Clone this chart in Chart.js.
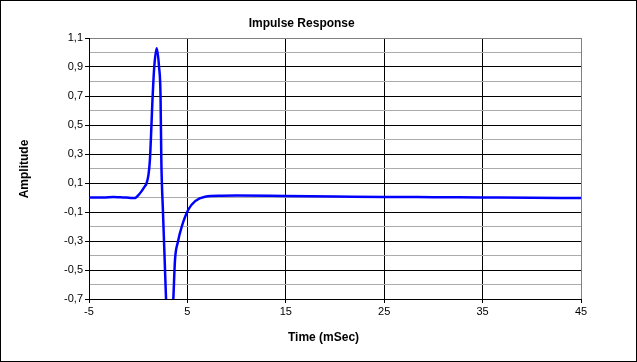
<!DOCTYPE html>
<html>
<head>
<meta charset="utf-8">
<title>Impulse Response</title>
<script src="https://cdn.jsdelivr.net/npm/chart.js@4.4.1/dist/chart.umd.min.js"></script>
<style>
  html, body { margin: 0; padding: 0; background: #fff; }
  .frame {
    width: 637px; height: 362px;
    box-sizing: border-box;
    border: 1px solid #000;
    background: #fff;
    position: relative;
  }
</style>
</head>
<body>
<div class="frame"><canvas id="impulseChart"></canvas></div>
<script>
/* Impulse Response — line chart */

// ── Data ──────────────────────────────────────────────────────
const timeMs = [
  -5, -3.5, -2.5, -1.8, -1.2, -0.6, -0.3, 0.0, 0.35, 0.6, 0.86, 1.05, 1.19,
  1.47, 1.63, 1.88, 2.12, 2.27, 2.35, 2.52, 2.69, 2.83, 3.0, 3.2, 3.4, 3.57,
  3.74, 4.02, 4.43, 5.1, 5.79, 6.8, 8.5, 10, 15, 20, 25, 30, 35, 40, 45
];
const amplitude = [
  0.000, 0.000, 0.003, 0.001, 0.000, -0.004, -0.003, 0.015, 0.044, 0.07, 0.10, 0.16, 0.26,
  0.70, 0.90, 1.03, 0.90, 0.70, 0.26, -0.105, -0.43, -0.70, -0.92, -1.00, -0.92, -0.70,
  -0.43, -0.31, -0.20, -0.083, -0.025, 0.005, 0.012, 0.013, 0.010, 0.007, 0.004, 0.002, 0.000, -0.002, -0.003
];

const xTickValues = [-5, 5, 15, 25, 35, 45];
const yTickValues = [
  -0.7, -0.6, -0.5, -0.4, -0.3, -0.2, -0.1, 0.0, 0.1,
  0.2, 0.3, 0.4, 0.5, 0.6, 0.7, 0.8, 0.9, 1.0, 1.1
];

const chartTitle = 'Impulse Response';
const xTitle = 'Time (mSec)';
const yTitle = 'Amplitude';

// ── Helpers ───────────────────────────────────────────────────
const FONT = "Arial, 'Liberation Sans', sans-serif";
const MINOR_GRID = '#ababab';
const BORDER_GREY = '#808080';

function isMajorY(v) {
  return Math.abs(Math.round(v * 10)) % 2 === 1;
}

function formatComma(v) {
  return v.toFixed(1).replace('.', ',');
}

// titles drawn at Excel-like positions
const titlesPlugin = {
  id: 'excelTitles',
  afterDraw(chart) {
    const ctx = chart.ctx;
    ctx.save();
    ctx.fillStyle = '#000';
    ctx.font = 'bold 12px ' + FONT;
    ctx.textAlign = 'center';
    ctx.textBaseline = 'alphabetic';
    ctx.fillText(chartTitle, 300.7, 25.7);
    ctx.fillText(xTitle, 322.5, 339.7);
    ctx.translate(26.5, 168);
    ctx.rotate(-Math.PI / 2);
    ctx.fillText(yTitle, 0, 0);
    ctx.restore();
  }
};

// ── Chart ─────────────────────────────────────────────────────
const points = timeMs.map((t, i) => ({ x: t, y: amplitude[i] }));

new Chart(document.getElementById('impulseChart'), {
  type: 'line',
  data: {
    datasets: [{
      label: 'Impulse',
      data: points,
      borderColor: '#0000ff',
      backgroundColor: '#0000ff',
      borderWidth: 2.5,
      pointRadius: 0,
      cubicInterpolationMode: 'monotone',
      clip: 0
    }]
  },
  options: {
    responsive: true,
    maintainAspectRatio: false,
    animation: false,
    events: [],
    layout: { padding: { top: 37, right: 55, bottom: 0, left: 0 } },
    plugins: {
      legend: { display: false },
      title: { display: false },
      tooltip: { enabled: false }
    },
    scales: {
      x: {
        type: 'linear',
        min: -5,
        max: 45,
        afterBuildTicks: s => { s.ticks = xTickValues.map(v => ({ value: v })); },
        afterFit: s => { s.height = 62; },
        ticks: {
          autoSkip: false,
          maxRotation: 0,
          padding: 2,
          color: '#000',
          font: { family: FONT, size: 11 },
          callback: v => String(v)
        },
        grid: {
          color: c => (c.tick && c.tick.value === 45 ? BORDER_GREY : '#000'),
          tickColor: '#000',
          tickLength: 4,
          lineWidth: 1
        },
        border: { color: '#000', width: 1 }
      },
      y: {
        type: 'linear',
        min: -0.7,
        max: 1.1,
        afterBuildTicks: s => { s.ticks = yTickValues.map(v => ({ value: v })); },
        afterFit: s => { s.width = 88; },
        ticks: {
          autoSkip: false,
          padding: 2,
          color: '#000',
          font: { family: FONT, size: 11 },
          callback: v => (isMajorY(v) ? formatComma(v) : '')
        },
        grid: {
          color: c => {
            const v = c.tick ? c.tick.value : 0;
            if (Math.abs(v - 1.1) < 1e-6) return BORDER_GREY;
            return isMajorY(v) ? '#000' : MINOR_GRID;
          },
          tickColor: c => (c.tick && isMajorY(c.tick.value) ? '#000' : 'rgba(0,0,0,0)'),
          tickLength: 4,
          lineWidth: 1
        },
        border: { color: '#000', width: 1 }
      }
    }
  },
  plugins: [titlesPlugin]
});
</script>
</body>
</html>
